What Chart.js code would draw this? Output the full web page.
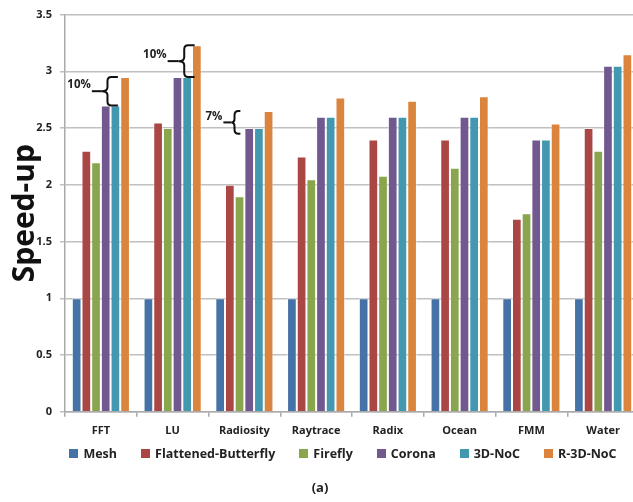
<!DOCTYPE html>
<html>
<head>
<meta charset="utf-8">
<script src="https://cdn.jsdelivr.net/npm/chart.js@4/dist/chart.umd.min.js"></script>
<style>
html,body{margin:0;padding:0;background:#fff;overflow:hidden;}
#wrap{width:633px;height:502px;overflow:hidden;position:relative;font-family:"Open Sans",sans-serif;}
#box{width:639px;height:446px;position:absolute;left:0;top:0;}
#legend{position:absolute;left:0;top:445px;width:686px;text-align:center;white-space:nowrap;font-weight:bold;font-size:12.5px;color:#222;line-height:18px;}
#legend .item{display:inline-block;margin:0 12px;}
#legend .sw{display:inline-block;width:9px;height:9px;margin-right:5px;vertical-align:0px;}
#caption{position:absolute;left:0;top:478px;width:640px;text-align:center;font-weight:bold;font-size:13px;color:#222;line-height:18px;}
</style>
</head>
<body>
<div id="wrap">
  <div id="box"><canvas id="c"></canvas></div>
  <div id="legend"></div>
  <div id="caption">(a)</div>
</div>
<script>
const categories = ["FFT","LU","Radiosity","Raytrace","Radix","Ocean","FMM","Water"];
const seriesNames = ["Mesh","Flattened-Butterfly","Firefly","Corona","3D-NoC","R-3D-NoC"];
const mesh      = [1,1,1,1,1,1,1,1];
const flattened = [2.30,2.55,2.00,2.25,2.40,2.40,1.70,2.50];
const firefly   = [2.20,2.50,1.90,2.05,2.08,2.15,1.75,2.30];
const corona    = [2.70,2.95,2.50,2.60,2.60,2.60,2.40,3.05];
const noc3d     = [2.70,2.95,2.50,2.60,2.60,2.60,2.40,3.05];
const r3dnoc    = [2.95,3.23,2.65,2.77,2.74,2.78,2.54,3.15];
const yTicks = {min:0, max:3.5, step:0.5};
// brace annotations: category index, low value, high value, label
const braceCats   = [0, 1, 2];
const braceLow    = [2.70, 2.95, 2.45];
const braceHigh   = [2.95, 3.23, 2.65];
const braceLabels = ["10%", "10%", "7%"];

const colors = ["#4572A7","#AA4643","#89A54E","#71588F","#4198AF","#DB843D"];
const seriesData = [mesh, flattened, firefly, corona, noc3d, r3dnoc];

// pixel offsets (relative to category centre) for drawing the braces
const braceStyle = [
  {lineX:-9, braceL:1, braceR:17},
  {lineX:-5, braceL:6, braceR:22},
  {lineX:-21, braceL:-13, braceR:-4}
];

const bracePlugin = {
  id:'braces',
  afterDatasetsDraw(chart){
    const ctx = chart.ctx;
    const xs = chart.scales.x, ys = chart.scales.y;
    ctx.save();
    ctx.strokeStyle = '#111';
    ctx.lineWidth = 2;
    ctx.fillStyle = '#222';
    ctx.font = 'bold 11.5px "Open Sans", sans-serif';
    ctx.textAlign = 'right';
    ctx.textBaseline = 'middle';
    braceCats.forEach((ci, i) => {
      const cx = xs.getPixelForValue(ci);
      const st = braceStyle[i];
      const yt = ys.getPixelForValue(braceHigh[i]);
      const yb = ys.getPixelForValue(braceLow[i]);
      const ym = (yt + yb) / 2;
      const xl = cx + st.braceL, xr = cx + st.braceR;
      const xv = xl + (xr - xl) * 0.35;
      const r = 4;
      ctx.beginPath();
      ctx.moveTo(xr, yt);
      ctx.lineTo(xv + r, yt);
      ctx.quadraticCurveTo(xv, yt, xv, yt + r);
      ctx.lineTo(xv, ym - r);
      ctx.quadraticCurveTo(xv, ym, xl, ym);
      ctx.quadraticCurveTo(xv, ym, xv, ym + r);
      ctx.lineTo(xv, yb - r);
      ctx.quadraticCurveTo(xv, yb, xv + r, yb);
      ctx.lineTo(xr, yb);
      ctx.stroke();
      // leader line
      ctx.beginPath();
      ctx.moveTo(cx + st.lineX, ym);
      ctx.lineTo(xl, ym);
      ctx.stroke();
      ctx.fillText(braceLabels[i], cx + st.lineX - 1, ym - 6);
    });
    ctx.restore();
  }
};

// HTML legend built from the series arrays
const legendEl = document.getElementById('legend');
seriesNames.forEach((n, i) => {
  const it = document.createElement('span');
  it.className = 'item';
  const sw = document.createElement('span');
  sw.className = 'sw';
  sw.style.background = colors[i];
  it.appendChild(sw);
  it.appendChild(document.createTextNode(n));
  legendEl.appendChild(it);
});

const FONT = '"Open Sans", sans-serif';

new Chart(document.getElementById('c'), {
  type:'bar',
  data:{
    labels: categories,
    datasets: seriesNames.map((n, i) => ({
      label: n,
      data: seriesData[i],
      backgroundColor: colors[i],
      borderColor: 'rgba(255,255,255,0.45)',
      borderWidth: 1,
      categoryPercentage: 0.81,
      barPercentage: 1.0
    }))
  },
  options:{
    responsive:true,
    maintainAspectRatio:false,
    animation:false,
    layout:{padding:{top:5, right:0, left:0, bottom:2}},
    plugins:{
      legend:{display:false},
      title:{display:false},
      tooltip:{enabled:false}
    },
    scales:{
      x:{
        grid:{display:true, drawOnChartArea:false, drawTicks:true, tickLength:5, color:'#aaa', lineWidth:1.5},
        border:{display:true, color:'#aaa', width:1.5},
        ticks:{color:'#222', font:{family:FONT, weight:'bold', size:11}, padding:7}
      },
      y:{
        min:yTicks.min, max:yTicks.max,
        afterFit:(scale)=>{ scale.width = 65; },
        ticks:{stepSize:yTicks.step, color:'#222', font:{family:FONT, weight:'bold', size:11}, padding:8,
               callback:(v)=>String(Math.round(v*10)/10)},
        grid:{color:'#c0c0c0', lineWidth:1.5, tickLength:5, drawTicks:true},
        border:{display:true, color:'#aaa', width:1.5},
        title:{display:true, text:'Speed-up', color:'#111', font:{family:FONT, weight:'bold', size:30}, padding:{top:7,bottom:0}}
      }
    }
  },
  plugins:[bracePlugin]
});
</script>
</body>
</html>
